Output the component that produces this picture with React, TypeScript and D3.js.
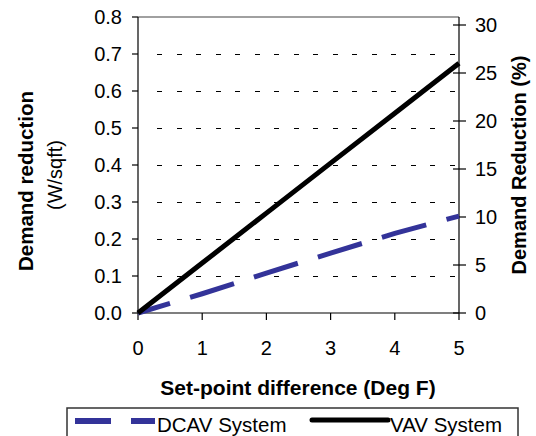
import React from "react";
import * as d3 from "d3";

const xValues = [0, 1, 2, 3, 4, 5];
const dcavValues = [0, 0.052, 0.108, 0.162, 0.215, 0.262];
const vavValues = [0, 0.135, 0.27, 0.405, 0.54, 0.675];
const leftTicks = [0, 0.1, 0.2, 0.3, 0.4, 0.5, 0.6, 0.7, 0.8];
const gridTicks = [0.1, 0.2, 0.3, 0.4, 0.5, 0.6, 0.7];
const rightTicks = [0, 5, 10, 15, 20, 25, 30];
const xTicks = [0, 1, 2, 3, 4, 5];
const seriesNames = ["DCAV System", "VAV System"];

const FONT = "'Liberation Sans', Arial, sans-serif";

export default function App() {
  const x = d3.scaleLinear().domain([0, 5]).range([138, 459]);
  const yL = d3.scaleLinear().domain([0, 0.8]).range([313, 17]);
  const yR = d3.scaleLinear().domain([0, 30]).range([313, 25]);
  const line = d3
    .line<number>()
    .x((_, i) => x(xValues[i]))
    .y((d) => yL(d));

  return (
    <svg
      width={536}
      height={436}
      style={{ position: "absolute", left: 0, top: 0, background: "#fff" }}
      fontFamily={FONT}
    >
      {/* gridlines */}
      <g>
        {gridTicks.map((t) => (
          <path
            key={"g" + t}
            d={`M${x(0) + 19},${Math.round(yL(t)) + 0.5}H${x(5)}`}
            fill="none"
            stroke="#000"
            strokeWidth={1}
            strokeDasharray="5,14.5"
            shapeRendering="crispEdges"
          />
        ))}
      </g>
      {/* top border */}
      <line x1={x(0)} x2={x(5)} y1={yL(0.8)} y2={yL(0.8)} stroke="#808080" strokeWidth={1.5} />
      {/* left axis */}
      <line x1={x(0)} x2={x(0)} y1={yL(0)} y2={yL(0.8)} stroke="#000" strokeWidth={1.2} />
      {leftTicks.map((t) => (
        <g key={"l" + t}>
          <line x1={x(0) - 6} x2={x(0)} y1={yL(t)} y2={yL(t)} stroke="#000" strokeWidth={1.2} />
          <text x={122} y={yL(t)} textAnchor="end" dominantBaseline="central" fontSize={20}>
            {d3.format(".1f")(t)}
          </text>
        </g>
      ))}
      {/* right axis */}
      <line x1={x(5)} x2={x(5)} y1={yL(0)} y2={yL(0.8)} stroke="#000" strokeWidth={1.2} />
      {rightTicks.map((t) => (
        <g key={"r" + t}>
          <line x1={x(5) - 6} x2={x(5) + 7} y1={yR(t)} y2={yR(t)} stroke="#000" strokeWidth={1.2} />
          <text x={475} y={yR(t)} textAnchor="start" dominantBaseline="central" fontSize={20}>
            {t}
          </text>
        </g>
      ))}
      {/* x axis */}
      <line x1={x(0)} x2={x(5)} y1={yL(0)} y2={yL(0)} stroke="#000" strokeWidth={1.2} />
      {xTicks.map((t) => (
        <g key={"x" + t}>
          <line x1={x(t)} x2={x(t)} y1={yL(0)} y2={yL(0) + 7} stroke="#000" strokeWidth={1.2} />
          <text x={x(t)} y={355} textAnchor="middle" fontSize={20}>
            {t}
          </text>
        </g>
      ))}
      {/* series */}
      <path
        d={line(dcavValues) || ""}
        fill="none"
        stroke="#333399"
        strokeWidth={5}
        strokeDasharray="46 21"
        strokeDashoffset={12.6}
      />
      <path d={line(vavValues) || ""} fill="none" stroke="#000" strokeWidth={5} />
      {/* titles */}
      <text x={298} y={395} textAnchor="middle" fontSize={21} fontWeight="bold">
        Set-point difference (Deg F)
      </text>
      <text
        transform="translate(25,181) rotate(-90)"
        textAnchor="middle"
        dominantBaseline="central"
        fontSize={20.5}
        fontWeight="bold"
      >
        Demand reduction
      </text>
      <text
        transform="translate(55,175) rotate(-90)"
        textAnchor="middle"
        dominantBaseline="central"
        fontSize={20}
      >
        (W/sqft)
      </text>
      <text
        transform="translate(519,165) rotate(-90)"
        textAnchor="middle"
        dominantBaseline="central"
        fontSize={20}
        fontWeight="bold"
      >
        Demand Reduction (%)
      </text>
      {/* legend */}
      <rect x={67} y={408} width={451} height={50} fill="#fff" stroke="#333" strokeWidth={1.5} />
      <line x1={75} x2={155} y1={421} y2={421} stroke="#333399" strokeWidth={6} strokeDasharray="36 20" />
      <text x={157} y={432} fontSize={20.5}>
        {seriesNames[0]}
      </text>
      <line x1={312} x2={388} y1={420} y2={420} stroke="#000" strokeWidth={5} strokeLinecap="round" />
      <text x={390} y={432} fontSize={20.5}>
        {seriesNames[1]}
      </text>
    </svg>
  );
}
